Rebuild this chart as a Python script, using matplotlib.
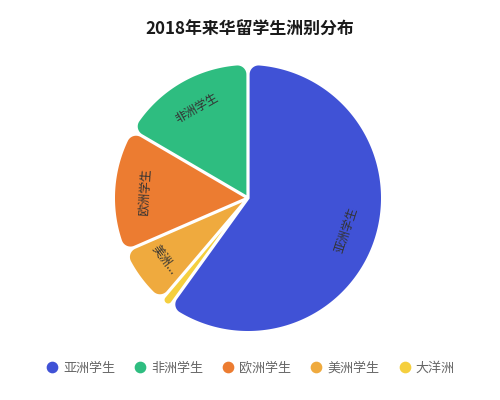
import numpy as np
import matplotlib
matplotlib.use("Agg")
import matplotlib.pyplot as plt
from matplotlib.path import Path
from matplotlib.patches import PathPatch
from matplotlib.lines import Line2D

plt.rcParams['font.family'] = ['Noto Sans CJK SC', 'DejaVu Sans']

title = "2018年来华留学生洲别分布"
categories = ["亚洲学生", "非洲学生", "欧洲学生", "美洲学生", "大洋洲"]
values = [295043, 81562, 73618, 35733, 6229]
slice_labels = ["亚洲学生", "非洲学生", "欧洲学生", "美洲...", ""]
colors = ["#4052D6", "#2EBD80", "#EC7C31", "#EFAA3E", "#F5CF3E"]

W, H = 500, 400
fig = plt.figure(figsize=(W / 100, H / 100), dpi=100)
ax = fig.add_axes([0, 0, 1, 1])

cx, cy, R = 248, 202, 133
frac0 = values[0] / sum(values)
wedges, _ = ax.pie(values, colors=colors, startangle=90 - 360 * frac0,
                   counterclock=True, radius=R, center=(cx, cy),
                   frame=True)
ax.set_xlim(0, W)
ax.set_ylim(0, H)
ax.set_aspect('equal')
ax.axis('off')

h = 1.6      # half gap (px)
rc0 = 9.0    # corner radius (px)


def rounded_wedge(c, r, t1, t2, h, rc):
    a1, a2 = np.radians(t1), np.radians(t2)
    half = (a2 - a1) / 2
    s = np.sin(half) * 0.98
    rc = min(rc, (s * r - h) / (1 + s))
    n1 = np.array([-np.sin(a1), np.cos(a1)])
    n2 = np.array([np.sin(a2), -np.cos(a2)])
    apex = np.linalg.solve(np.array([n1, n2]), np.array([h, h]))
    d = np.arcsin((h + rc) / (r - rc))
    p1, p2 = a1 + d, a2 - d
    q1 = (r - rc) * np.array([np.cos(p1), np.sin(p1)])
    q2 = (r - rc) * np.array([np.cos(p2), np.sin(p2)])
    pts = [apex]
    for t in np.linspace(a1 - np.pi / 2, p1, 20):
        pts.append(q1 + rc * np.array([np.cos(t), np.sin(t)]))
    for t in np.linspace(p1, p2, 200):
        pts.append(r * np.array([np.cos(t), np.sin(t)]))
    for t in np.linspace(p2, a2 + np.pi / 2, 20):
        pts.append(q2 + rc * np.array([np.cos(t), np.sin(t)]))
    pts.append(apex)
    pts = np.array(pts) + np.array(c)
    codes = [Path.MOVETO] + [Path.LINETO] * (len(pts) - 2) + [Path.CLOSEPOLY]
    return Path(pts, codes)


for w, col, lab in zip(wedges, colors, slice_labels):
    w.set_visible(False)
    path = rounded_wedge(w.center, w.r, w.theta1, w.theta2, h, rc0)
    ax.add_patch(PathPatch(path, facecolor=col, edgecolor='none', zorder=2))
    if lab:
        mid = (w.theta1 + w.theta2) / 2
        rad = np.radians(mid)
        x = w.center[0] + 0.78 * w.r * np.cos(rad)
        y = w.center[1] + 0.78 * w.r * np.sin(rad)
        rot = mid - 90
        rot = (rot + 180) % 360 - 180
        if rot > 90:
            rot -= 180
        elif rot < -90:
            rot += 180
        ax.text(x, y, lab, rotation=rot, rotation_mode='anchor',
                ha='center', va='center', fontsize=8.6, color='#333333',
                zorder=3)

fig.text(0.5, 1 - 30 / H, title, ha='center', va='center',
         fontsize=12.2, color='#1a1a1a', fontweight='bold')

handles = [Line2D([0], [0], marker='o', linestyle='none', markersize=7.4,
                  markerfacecolor=c, markeredgecolor=c) for c in colors]
leg = fig.legend(handles, categories, loc='center', ncol=5,
                 bbox_to_anchor=(0.5, 1 - 368 / H), frameon=False,
                 fontsize=9.4, handlelength=1.0, handletextpad=0.35,
                 columnspacing=1.42, borderaxespad=0)
for t in leg.get_texts():
    t.set_color('#666666')

fig.savefig('out.png', dpi=100, facecolor='white')
